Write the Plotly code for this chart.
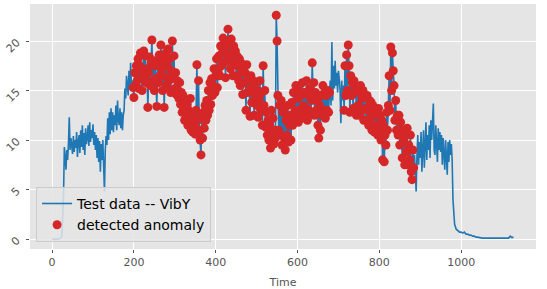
import plotly.graph_objects as go

# Time index: coarse at the flat ends, every 2 steps in the busy part
time = list(range(0, 28, 4)) + list(range(28, 980, 2)) + list(range(980, 1129, 4))

vib_y = [
    # t 0-24 (step 4)
    0.0, 0.0, 0.0, 0.0, 0.0, 0.1, 0.3,
    # t 28-978 (step 2), rows of 10 values
    4.5, 9.3, 8.2, 7.0, 9.0, 8.0, 9.6, 12.3, 9.0, 10.2,      # 28
    9.5, 8.6, 10.4, 8.8, 10.0, 9.2, 10.8, 8.3, 9.8, 10.5,    # 48
    8.7, 11.0, 9.3, 11.5, 9.0, 10.7, 8.5, 11.2, 9.6, 10.2,   # 68
    11.5, 9.4, 11.8, 9.8, 11.0, 10.2, 11.6, 9.5, 10.8, 9.0,  # 88
    10.5, 8.2, 10.2, 7.8, 9.9, 6.8, 9.6, 8.0, 10.0, 7.2,     # 108
    4.8, 9.0, 10.4, 9.5, 12.2, 10.0, 12.8, 10.6, 13.2, 11.0, # 128
    12.8, 10.8, 12.5, 11.5, 13.5, 11.0, 14.0, 12.0, 11.5, 13.2,  # 148
    11.2, 12.8, 11.0, 12.5, 13.0, 15.2, 14.2, 16.5, 15.0, 14.5,  # 168
    17.0, 15.2, 17.8, 15.5, 16.0, 15.3, 14.3, 16.8, 15.5, 17.5,  # 188
    16.0, 18.2, 15.2, 17.5, 18.8, 16.2, 15.0, 17.0, 19.0, 16.5,  # 208
    18.5, 15.8, 17.2, 13.3, 16.8, 18.4, 15.5, 17.8, 20.1, 16.0,  # 228
    18.0, 15.0, 17.5, 16.2, 13.4, 17.8, 15.8, 18.6, 16.5, 19.6,  # 248
    17.2, 15.0, 18.0, 13.3, 16.4, 18.8, 15.5, 17.4, 19.2, 16.0,  # 268
    18.2, 14.8, 17.0, 20.0, 16.5, 18.5, 15.2, 16.8, 14.6, 16.0,  # 288
    15.0, 14.2, 15.8, 13.6, 14.8, 12.8, 14.5, 13.2, 12.0, 14.0,  # 308
    12.5, 13.6, 11.5, 13.0, 11.8, 14.2, 11.0, 12.6, 10.8, 12.2,  # 328
    11.5, 10.6, 13.0, 17.6, 12.0, 16.0, 11.0, 10.0, 8.5, 12.5,   # 348
    10.2, 12.8, 11.2, 13.5, 12.0, 14.0, 12.5, 15.0, 13.0, 15.8,  # 368
    13.6, 16.2, 14.5, 15.5, 17.2, 14.8, 16.5, 18.2, 15.3, 17.0,  # 388
    18.5, 16.5, 19.5, 17.5, 18.8, 20.3, 17.8, 19.2, 16.3, 20.0,  # 408
    18.0, 21.2, 18.5, 19.8, 17.2, 20.2, 18.8, 16.5, 19.5, 17.8,  # 428
    19.0, 16.5, 18.5, 17.5, 16.0, 18.2, 15.5, 17.8, 16.8, 14.6,  # 448
    17.5, 15.8, 16.8, 13.0, 17.6, 14.8, 16.2, 15.0, 12.4, 16.5,  # 468
    13.8, 15.5, 16.0, 12.5, 14.5, 15.8, 13.5, 15.0, 12.3, 14.2,  # 488
    16.0, 13.0, 14.8, 11.5, 17.5, 13.5, 15.0, 11.3, 12.8, 10.5,  # 508
    12.0, 10.0, 11.5, 9.2, 13.0, 10.8, 12.2, 9.6, 11.0, 10.2,    # 528
    22.6, 20.0, 14.5, 11.0, 13.5, 10.5, 14.0, 9.5, 12.8, 10.3,   # 548
    13.2, 9.0, 12.0, 10.5, 13.5, 9.8, 11.5, 12.5, 10.0, 13.8,    # 568
    11.5, 14.8, 12.2, 13.0, 15.5, 12.8, 14.2, 11.8, 15.0, 13.0,  # 588
    14.5, 12.2, 15.8, 13.5, 12.5, 14.8, 13.2, 16.0, 12.0, 14.5,  # 608
    13.0, 15.2, 12.5, 14.0, 17.8, 14.5, 15.8, 12.5, 14.8, 13.0,  # 628
    14.0, 11.5, 10.2, 13.5, 11.0, 14.5, 12.5, 15.5, 13.0, 14.8,  # 648
    12.2, 14.5, 13.0, 15.0, 12.8, 14.8, 16.0, 13.5, 19.9, 14.0,  # 668
    17.5, 15.2, 18.0, 15.5, 16.8, 14.8, 17.0, 16.2, 15.0, 11.7,  # 688
    16.0, 14.0, 15.5, 13.0, 17.5, 14.5, 18.6, 15.0, 19.6, 17.5,  # 708
    12.8, 16.5, 14.5, 15.8, 13.2, 16.0, 14.8, 15.5, 12.5, 15.2,  # 728
    13.5, 14.8, 12.5, 15.5, 13.0, 14.2, 15.0, 12.0, 14.5, 13.2,  # 748
    12.0, 14.5, 13.0, 11.5, 14.0, 12.2, 13.8, 11.0, 13.5, 12.5,  # 768
    10.8, 13.0, 11.5, 12.5, 10.5, 13.2, 11.0, 12.5, 10.0, 12.0,  # 788
    8.0, 11.5, 7.8, 10.5, 9.5, 12.8, 11.0, 13.5, 16.5, 13.0,     # 808
    19.4, 15.0, 18.8, 17.0, 15.5, 12.0, 14.0, 11.0, 12.5, 10.5,  # 828
    12.5, 9.5, 11.8, 10.5, 8.2, 11.0, 9.8, 7.5, 10.5, 8.8,       # 848
    11.2, 7.5, 9.5, 8.0, 10.5, 6.8, 6.0, 9.0, 7.2, 8.5,          # 868
    7.0, 4.8, 8.5, 10.5, 7.5, 9.8, 8.2, 10.8, 6.8, 9.5,          # 888
    11.0, 7.2, 10.2, 11.8, 8.0, 10.5, 9.0, 11.5, 8.2, 12.0,      # 908
    10.0, 12.5, 13.7, 9.0, 8.5, 11.5, 9.5, 7.8, 11.2, 9.0,       # 928
    10.8, 8.8, 10.5, 7.5, 10.2, 9.0, 7.0, 10.0, 8.5, 6.5,        # 948
    9.8, 7.8, 10.0, 8.5, 9.6, 8.0,                               # 968
    # t 980-1128 (step 4)
    4.0, 1.5, 1.0, 0.8, 0.7, 0.7, 0.6, 0.7, 0.5, 0.5, 0.4, 0.4, 0.3, 0.3, 0.2, 0.2, 0.15,
    0.1, 0.1, 0.1, 0.1, 0.1, 0.1, 0.1, 0.1, 0.1, 0.1, 0.1, 0.1, 0.1, 0.1, 0.1, 0.1, 0.1, 0.1,
    0.3, 0.15, 0.2,
]

# detected anomaly windows (time ranges, inclusive)
anomaly_windows = [(198, 678), (714, 884)]

n = min(len(time), len(vib_y))
time = time[:n]
vib_y = vib_y[:n]

is_anom = [any(a <= t <= b for a, b in anomaly_windows) for t in time]
anom_t = [t for t, f in zip(time, is_anom) if f]
anom_v = [v for v, f in zip(vib_y, is_anom) if f]

font_family = "DejaVu Sans"
tick_color = "#555555"

fig = go.Figure()
fig.add_trace(go.Scatter(
    x=time, y=vib_y, mode="lines", name="Test data -- VibY",
    line=dict(color="#1f77b4", width=1.6),
))
fig.add_trace(go.Scatter(
    x=anom_t, y=anom_v, mode="markers", name="detected anomaly",
    marker=dict(color="#d62728", size=9, line=dict(width=0)),
))

fig.update_layout(
    width=547, height=289,
    margin=dict(l=30, r=11, t=4, b=40),
    paper_bgcolor="white",
    plot_bgcolor="#E5E5E5",
    font=dict(family=font_family, color=tick_color, size=11),
    showlegend=True,
    legend=dict(
        x=0.012, y=0.029, xanchor="left", yanchor="bottom",
        bgcolor="rgba(229,229,229,0.85)", bordercolor="#cccccc", borderwidth=1,
        font=dict(family=font_family, size=14, color="black"),
        tracegroupgap=0,
    ),
    xaxis=dict(
        range=[-54, 1183], tickvals=[0, 200, 400, 600, 800, 1000],
        showgrid=True, gridcolor="white", gridwidth=1, zeroline=False,
        showline=False, ticks="outside", ticklen=3, tickwidth=1, tickcolor=tick_color,
        tickfont=dict(size=11, color=tick_color),
        automargin=False,
        title=dict(text="Time", font=dict(size=11, color=tick_color)),
    ),
    yaxis=dict(
        range=[-1.0, 23.74], tickvals=[0, 5, 10, 15, 20],
        showgrid=True, gridcolor="white", gridwidth=1, zeroline=False,
        showline=False, ticks="outside", ticklen=3, tickwidth=1, tickcolor=tick_color,
        tickangle=-45, tickfont=dict(size=11, color=tick_color),
        ticklabelstandoff=7,
        automargin=False,
    ),
)

fig.write_html(
    "out.html",
    config={"displayModeBar": False},
    post_script="document.body.style.margin='0';",
)
